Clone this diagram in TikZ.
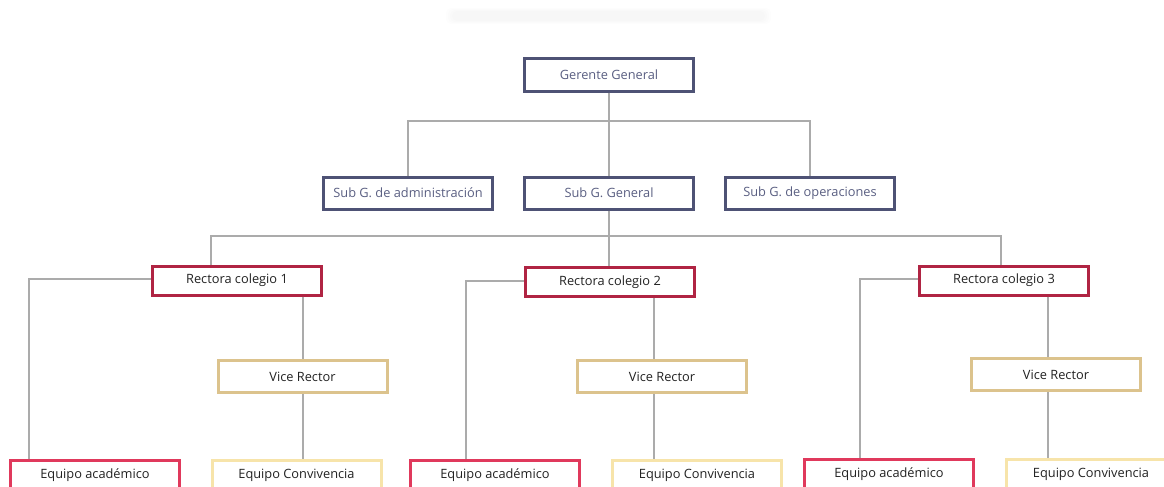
\documentclass[tikz,border=0pt]{standalone}
\usepackage{fontspec}
\setmainfont{Open Sans}
\begin{document}
\begin{tikzpicture}[x=1pt,y=-1pt,
  box/.style={draw,line width=3pt,minimum width=169pt,minimum height=32pt,
    inner sep=0pt,font=\fontsize{12.8}{14}\selectfont,fill=white},
  mgmt/.style={box,draw=mgmtc,text=mgmttext},
  rect/.style={box,draw=rectc,text=ink},
  acad/.style={box,draw=acadc,text=ink},
  vice/.style={box,draw=vicec,text=ink},
  conv/.style={box,draw=convc,text=ink},
  wire/.style={draw=wirec,line width=2pt}]
\definecolor{mgmtc}{HTML}{4E5275}
\definecolor{mgmttext}{HTML}{5A5F82}
\definecolor{rectc}{HTML}{B02443}
\definecolor{acadc}{HTML}{E0395C}
\definecolor{vicec}{HTML}{DCC38D}
\definecolor{convc}{HTML}{F7E4AA}
\definecolor{ink}{HTML}{222222}
\definecolor{wirec}{HTML}{ABABAB}
\useasboundingbox (0,0) rectangle (1164,487);
\clip (0,0) rectangle (1164,487);
% faint soft shadow strip at the top
\foreach \s in {0,1,2,3} {
  \fill[black,opacity=0.008,rounded corners=5pt]
    (452-2*\s,11-\s) rectangle (765+2*\s,21+\s);
}
% management
\node[mgmt] (gg)  at (609,75)  {Gerente General};
\node[mgmt] (sga) at (408,193) {Sub G. de administración};
\node[mgmt] (sgg) at (609,193) {Sub G. General};
\node[mgmt] (sgo) at (810,193) {Sub G. de operaciones};
% school heads
\node[rect,minimum height=29pt] (r1) at (237,280.5) {Rectora colegio 1};
\node[rect,minimum height=29pt] (r2) at (610,282)   {Rectora colegio 2};
\node[rect,minimum height=29pt] (r3) at (1004,280.5){Rectora colegio 3};
% vice rectors
\node[vice] (v1) at (302.5,376.5) {Vice Rector};
\node[vice] (v2) at (662,376.5)   {Vice Rector};
\node[vice] (v3) at (1056,374.5)  {Vice Rector};
% teams
\node[acad,minimum height=30pt] (a1) at (95,475)   {Equipo académico};
\node[acad,minimum height=30pt] (a2) at (495,475)  {Equipo académico};
\node[acad,minimum height=30pt] (a3) at (889,474)  {Equipo académico};
\node[conv,minimum height=30pt] (c1) at (296.5,475){Equipo Convivencia};
\node[conv,minimum height=30pt] (c2) at (697,475)  {Equipo Convivencia};
\node[conv,minimum height=30pt] (c3) at (1091,474) {Equipo Convivencia};
% junction points
\coordinate (j1) at (609,121);
\coordinate (j2) at (609,236);
\coordinate (t1) at (211,236);
\coordinate (t3) at (1001,236);
\coordinate (k1) at (29,279);
\coordinate (k2) at (466,281);
\coordinate (k3) at (860,279);
\coordinate (d1) at (303,0);
\coordinate (d2) at (654,0);
\coordinate (d3) at (1048,0);
% connectors
\draw[wire] (gg.south) -- (sgg.north);
\draw[wire] (sga.north) |- (j1) -| (sgo.north);
\draw[wire] (sgg.south) -- (j2);
\draw[wire] (t1 |- r1.north) -- (t1) -- (t3) -- (t3 |- r3.north);
\draw[wire] (j2) -- (j2 |- r2.north);
\draw[wire] (r1.west |- k1) -- (k1) -- (k1 |- a1.north);
\draw[wire] (r2.west |- k2) -- (k2) -- (k2 |- a2.north);
\draw[wire] (r3.west |- k3) -- (k3) -- (k3 |- a3.north);
\draw[wire] (d1 |- r1.south) -- (d1 |- v1.north);
\draw[wire] (d2 |- r2.south) -- (d2 |- v2.north);
\draw[wire] (d3 |- r3.south) -- (d3 |- v3.north);
\draw[wire] (d1 |- v1.south) -- (d1 |- c1.north);
\draw[wire] (d2 |- v2.south) -- (d2 |- c2.north);
\draw[wire] (d3 |- v3.south) -- (d3 |- c3.north);
\end{tikzpicture}
\end{document}
